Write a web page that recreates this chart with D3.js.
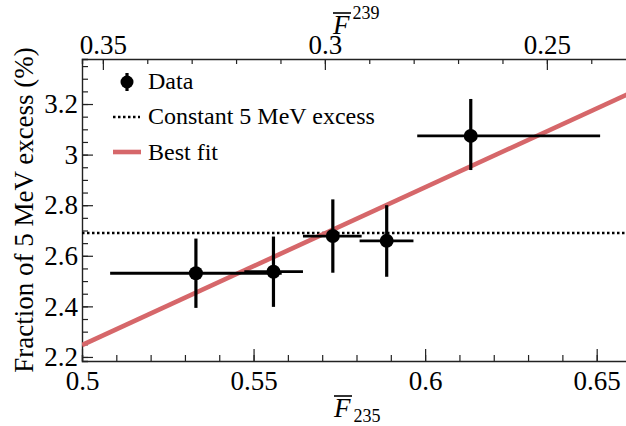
<!DOCTYPE html>
<html>
<head>
<meta charset="utf-8">
<script src="https://cdn.jsdelivr.net/npm/d3@7"></script>
<style>
  body { margin: 0; background: #fff; }
  svg { display: block; font-family: "Liberation Serif", "DejaVu Serif", serif; }
</style>
</head>
<body>
<div id="chart"></div>
<script>
// data
const f235 = [0.5332, 0.5558, 0.5731, 0.5888, 0.6133],
  f235Lo = [0.5082, 0.5473, 0.5644, 0.5809, 0.5977],
  f235Hi = [0.5582, 0.5644, 0.5815, 0.5966, 0.6510],
  excess = [2.531, 2.537, 2.678, 2.659, 3.074],
  excessLo = [2.394, 2.398, 2.533, 2.517, 2.939],
  excessHi = [2.668, 2.676, 2.823, 2.800, 3.220];

const constExcess = 2.69;
const fitF = [0.5, 0.66],
  fitExcess = [2.247, 3.245];

const xTicks = [0.5, 0.55, 0.6, 0.65],
  topTicks = [0.35, 0.3, 0.25],
  yTicks = [2.2, 2.4, 2.6, 2.8, 3, 3.2];

const legendLabels = ["Data", "Constant 5 MeV excess", "Best fit"];

const data = f235.map((d, i) => ({
  x: d, x0: f235Lo[i], x1: f235Hi[i],
  y: excess[i], y0: excessLo[i], y1: excessHi[i]
}));

const width = 626, height = 426,
  margin = ({ top: 59, right: -5, bottom: 65, left: 82 });

const x = d3.scaleLinear()
  .domain([0.5, 0.66])
  .range([margin.left, width - margin.right]);

const xTop = d3.scaleLinear()
  .domain([0.3547, 0.23105])
  .range([margin.left, width - margin.right]);

const y = d3.scaleLinear()
  .domain([2.184, 3.378])
  .range([height - margin.bottom, margin.top]);

const svg = d3.select("#chart")
  .append("svg")
  .attr("width", width)
  .attr("height", height)
  .attr("viewBox", [0, 0, width, height]);

svg.append("clipPath").attr("id", "clip")
  .append("rect")
  .attr("x", margin.left).attr("y", margin.top)
  .attr("width", x.range()[1] - margin.left)
  .attr("height", y.range()[0] - margin.top);

const fmt = d => String(+d.toFixed(2));

// bottom axis
const gx = svg.append("g")
  .attr("transform", `translate(0,${y.range()[0]})`);
gx.call(d3.axisBottom(x).tickValues(d3.range(0.5, 0.661, 0.01)).tickSize(-6).tickFormat(""));
svg.append("g")
  .attr("transform", `translate(0,${y.range()[0]})`)
  .call(d3.axisBottom(x).tickValues(xTicks).tickSize(-12).tickSizeOuter(0).tickPadding(10).tickFormat(fmt))
  .call(g => g.select(".domain").remove());

// top axis
svg.append("g")
  .attr("transform", `translate(0,${margin.top})`)
  .call(d3.axisTop(xTop).tickValues(d3.range(0.35, 0.229, -0.01)).tickSize(-5).tickFormat(""));
svg.append("g")
  .attr("transform", `translate(0,${margin.top})`)
  .call(d3.axisTop(xTop).tickValues(topTicks).tickSize(-11).tickSizeOuter(0).tickPadding(5).tickFormat(fmt))
  .call(g => g.select(".domain").remove());

// left axis
svg.append("g")
  .attr("transform", `translate(${margin.left},0)`)
  .call(d3.axisLeft(y).tickValues(d3.range(2.2, 3.38, 0.05)).tickSize(-6).tickFormat(""));
svg.append("g")
  .attr("transform", `translate(${margin.left},0)`)
  .call(d3.axisLeft(y).tickValues(yTicks).tickSize(-11).tickSizeOuter(0).tickPadding(4).tickFormat(fmt))
  .call(g => g.select(".domain").remove());

svg.selectAll(".tick text")
  .attr("font-size", 27)
  .attr("font-family", "Liberation Serif")
  .attr("fill", "#000");
svg.selectAll(".tick line").attr("stroke", "#222").attr("stroke-width", 1.2);
svg.selectAll(".domain").attr("stroke", "#222").attr("stroke-width", 1.4);

// constant excess
svg.append("line")
  .attr("clip-path", "url(#clip)")
  .attr("x1", x(0.5)).attr("x2", x(0.66))
  .attr("y1", y(constExcess)).attr("y2", y(constExcess))
  .attr("stroke", "#000")
  .attr("stroke-width", 2.6)
  .attr("stroke-dasharray", "2.5,2.5");

// best fit
svg.append("path")
  .attr("clip-path", "url(#clip)")
  .datum(fitF.map((d, i) => [d, fitExcess[i]]))
  .attr("d", d3.line().x(d => x(d[0])).y(d => y(d[1])))
  .attr("stroke", "#d6676a")
  .attr("stroke-width", 4.6)
  .attr("fill", "none");

// data points
const pts = svg.append("g");
pts.selectAll(".xerr")
  .data(data)
  .join("line")
  .attr("x1", d => x(d.x0)).attr("x2", d => x(d.x1))
  .attr("y1", d => y(d.y)).attr("y2", d => y(d.y))
  .attr("stroke", "#000").attr("stroke-width", 2.8);
pts.selectAll(".yerr")
  .data(data)
  .join("line")
  .attr("x1", d => x(d.x)).attr("x2", d => x(d.x))
  .attr("y1", d => y(d.y0)).attr("y2", d => y(d.y1))
  .attr("stroke", "#000").attr("stroke-width", 3.2);
pts.selectAll("circle")
  .data(data)
  .join("circle")
  .attr("cx", d => x(d.x))
  .attr("cy", d => y(d.y))
  .attr("r", 7)
  .attr("fill", "#000");

// legend
const legend = svg.append("g");
const rowY = [89, 124, 160];
legend.selectAll("text")
  .data(legendLabels)
  .join("text")
  .attr("x", 148)
  .attr("y", (d, i) => rowY[i])
  .attr("font-size", 24)
  .text(d => d);
legend.append("line")
  .attr("x1", 127).attr("x2", 127).attr("y1", 73).attr("y2", 91)
  .attr("stroke", "#000").attr("stroke-width", 3.2);
legend.append("circle").attr("cx", 127).attr("cy", 82).attr("r", 6.5);
legend.append("line")
  .attr("x1", 113).attr("x2", 140).attr("y1", 117).attr("y2", 117)
  .attr("stroke", "#000").attr("stroke-width", 2.6).attr("stroke-dasharray", "2.5,2.5");
legend.append("line")
  .attr("x1", 113).attr("x2", 141).attr("y1", 152).attr("y2", 152)
  .attr("stroke", "#d6676a").attr("stroke-width", 4.6);

// axis titles
svg.append("text")
  .attr("transform", `translate(33,${(margin.top + y.range()[0]) / 2}) rotate(-90)`)
  .attr("text-anchor", "middle")
  .attr("font-size", 27)
  .text("Fraction of 5 MeV excess (%)");

function fTitle(xPos, base, sub, subDy) {
  const t = svg.append("text")
    .attr("x", xPos).attr("y", base)
    .attr("font-size", 27);
  const f = t.append("tspan").attr("font-style", "italic").text("F");
  t.append("tspan").attr("font-size", 18).attr("dx", 3).attr("dy", subDy).text(sub);
  const b = f.node().getBBox();
  svg.append("line")
    .attr("x1", b.x + 1).attr("x2", b.x + b.width + 1)
    .attr("y1", b.y + 3).attr("y2", b.y + 3)
    .attr("stroke", "#000").attr("stroke-width", 1.6);
}
fTitle(334, 417, "235", 5);
fTitle(333, 34, "239", -15);
</script>
</body>
</html>
